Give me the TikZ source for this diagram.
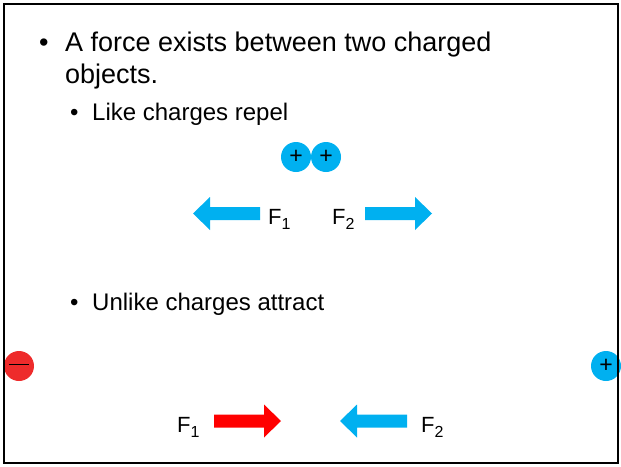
\documentclass[tikz,border=0pt]{standalone}
\usepackage{fontspec}
\setmainfont{Liberation Sans}
\definecolor{chargeblue}{HTML}{00B0F0}
\definecolor{chargered}{HTML}{EE2B2B}
\definecolor{arrowred}{HTML}{FF0000}
\newcommand{\fsub}[1]{\raisebox{-0.45ex}{\fontsize{16}{18}\selectfont #1}}
\tikzset{
  maintext/.style={anchor=base west, inner sep=0pt, font=\fontsize{27}{31}\selectfont},
  subtext/.style={anchor=base west, inner sep=0pt, font=\fontsize{24}{28}\selectfont},
  flabel/.style={anchor=base west, inner sep=0pt, font=\fontsize{22}{26}\selectfont},
  charge/.style={circle, minimum size=30pt, inner sep=0pt, font=\fontsize{23}{25}\selectfont},
  pics/farrow/.style={code={
    \fill (0,-6.5) -- (50,-6.5) -- (50,-16.5) -- (67,0) -- (50,16.5) -- (50,6.5) -- (0,6.5) -- cycle;}}
}
\begin{document}
\begin{tikzpicture}[x=1pt,y=-1pt]
\useasboundingbox (0,0) rectangle (621,466);
\begin{scope}
\clip (0,0) rectangle (621,466);
% charges
\node[charge, fill=chargeblue] (p1) at (296,157) {\raisebox{-0.15ex}{+}};
\node[charge, fill=chargeblue] (p2) at (326,157) {\raisebox{-0.15ex}{+}};
\node[charge, fill=chargered] (m) at (19,366) {\rule[0.3ex]{20pt}{1.3pt}};
\node[charge, fill=chargeblue] (p3) at (606,366) {\raisebox{-0.15ex}{+}};
\end{scope}
% frame
\draw[line width=2pt] (4,4) rectangle (618,463);
\draw[line width=1.5pt] (4.5,4) -- (4.5,463);
% text
\node[maintext] (b1) at (39,51) {•};
\node[maintext] (t1) at (65,51) {A force exists between two charged};
\node[maintext] (t2) at (65,83) {objects.};
\node[subtext] (b2) at (70,120) {•};
\node[subtext] (t3) at (92,120) {Like charges repel};
\node[subtext] (b3) at (70,310) {•};
\node[subtext] (t4) at (92,310) {Unlike charges attract};
% repel forces
\pic[fill=chargeblue, xscale=-1] (a1) at (260,213.5) {farrow};
\node[flabel] (f1) at (268,224) {F\fsub{1}};
\node[flabel] (f2) at (332,224) {F\fsub{2}};
\pic[fill=chargeblue] (a2) at (365,213.5) {farrow};
% attract forces
\node[flabel] (f3) at (177,432) {F\fsub{1}};
\pic[fill=arrowred] (a3) at (214,421) {farrow};
\pic[fill=chargeblue, xscale=-1] (a4) at (407,421) {farrow};
\node[flabel] (f4) at (421,432) {F\fsub{2}};
\end{tikzpicture}
\end{document}
